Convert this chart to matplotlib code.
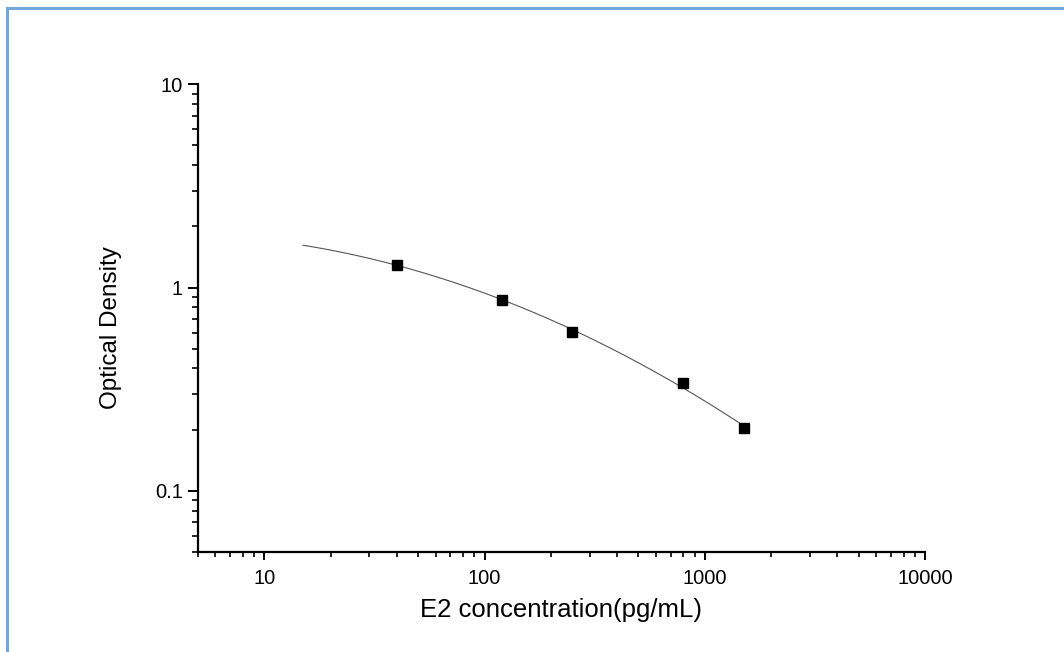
import numpy as np
import matplotlib
matplotlib.use("Agg")
import matplotlib.pyplot as plt
from matplotlib.patches import Rectangle

# standard points
conc = [40, 120, 250, 800, 1500]
od = [1.295, 0.869, 0.604, 0.338, 0.203]

# fitted curve runs from about 15 up to the top standard
curve_start = 15
curve_end = 1500

x_ticks = [10, 100, 1000, 10000]
x_ticklabels = ["10", "100", "1000", "10000"]
y_ticks = [0.1, 1, 10]
y_ticklabels = ["0.1", "1", "10"]

plt.rcParams['font.family'] = ['Liberation Sans', 'DejaVu Sans']

fig = plt.figure(figsize=(10.64, 6.52), dpi=100)
ax = fig.add_axes([198/1064, 1 - 552/652, (925 - 198)/1064, (552 - 84.3)/652])

# light blue frame round the picture (only top and left show)
fig.patches.append(Rectangle((7/1064, -0.1), 1.2, 1 - 8/652 + 0.1,
                             transform=fig.transFigure, fill=False,
                             edgecolor='#6fa7de', linewidth=2.2))

# quadratic fit in log-log space through the standards
coef = np.polyfit(np.log10(conc), np.log10(od), 2)
xs = np.logspace(np.log10(curve_start), np.log10(curve_end), 200)
ys = 10 ** np.polyval(coef, np.log10(xs))
ax.plot(xs, ys, color='#555555', linewidth=0.8)
ax.plot(conc, od, linestyle='none', marker='s', markersize=7.5, color='black')

ax.set_xscale('log')
ax.set_yscale('log')
ax.set_xlim(5, 10000)
ax.set_ylim(0.05, 10)
ax.set_xticks(x_ticks)
ax.set_xticklabels(x_ticklabels)
ax.set_yticks(y_ticks)
ax.set_yticklabels(y_ticklabels)

ax.spines['top'].set_visible(False)
ax.spines['right'].set_visible(False)
ax.spines['left'].set_linewidth(1.6)
ax.spines['bottom'].set_linewidth(1.6)
ax.tick_params(axis='y', which='major', length=7, width=1.4, labelsize=14.5, pad=4)
ax.tick_params(axis='y', which='minor', length=4.5, width=1.2)
ax.tick_params(axis='x', which='major', length=5.5, width=1.4, labelsize=14.5, pad=7)
ax.tick_params(axis='x', which='minor', length=3.5, width=1.2)

ax.set_xlabel("E2 concentration(pg/mL)", fontsize=18.5, labelpad=7)
ax.set_ylabel("Optical Density", fontsize=17.5)
ax.yaxis.set_label_coords(-0.104, 0.48)

fig.savefig("out.png", dpi=100)
